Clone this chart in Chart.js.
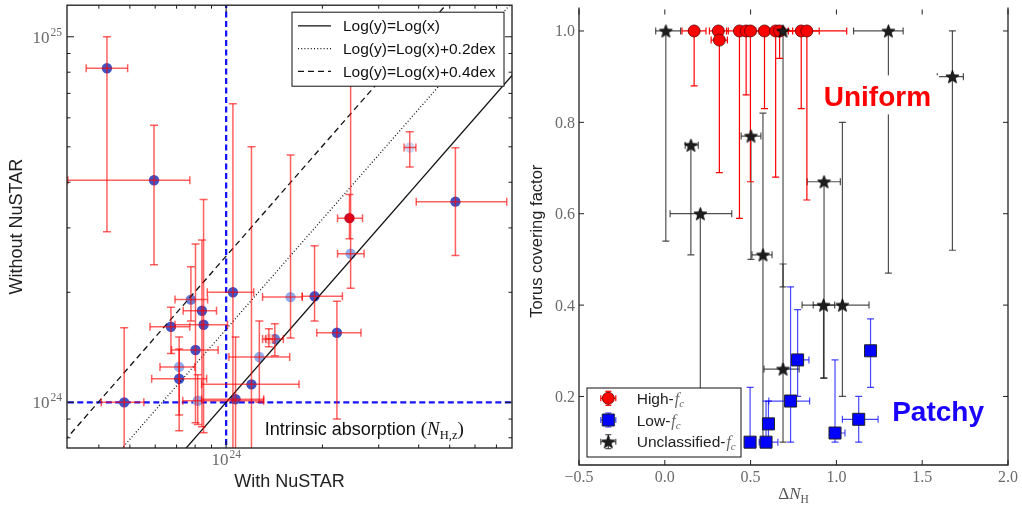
<!DOCTYPE html>
<html>
<head>
<meta charset="utf-8">
<title>NuSTAR column densities and torus covering factor</title>
<script src="https://cdn.jsdelivr.net/npm/chart.js@4.4.1/dist/chart.umd.min.js"></script>
<style>
  html, body { margin: 0; padding: 0; background: #fff; overflow: hidden; }
  #left { position: absolute; left: 0; top: 0; }
  #right { position: absolute; left: 520px; top: 0; }
</style>
</head>
<body>
<canvas id="left" width="520" height="511"></canvas>
<canvas id="right" width="502" height="511"></canvas>
<script>
// ---------- left panel: N_H fitted with / without NuSTAR (cm^-2) ----------
var nhWith      = [4.24e23, 5.95e23, 4.8e23, 6.72e23, 7.76e23, 8.4e23, 8.5e23, 8.02e23, 7.13e23, 7.13e23, 8.15e23,
                   1.05e24, 1.07e24, 1.2e24, 1.27e24, 1.42e24, 1.36e24, 1.59e24, 1.89e24, 2.22e24, 2.43e24, 2.45e24, 3.75e24, 5.21e24];
var nhWithLo    = [3.65e23, 3.2e23, 4.07e23, 5.78e23, 6.92e23, 7.34e23, 6.92e23, 6.75e23, 6.21e23, 5.85e23, 7.32e23,
                   8.73e23, 8.38e23, 8.38e23, 1.02e24, 1.3e24, 1.33e24, 1.3e24, 1.73e24, 1.92e24, 2.23e24, 2.23e24, 3.6e24, 3.93e24];
var nhWithHi    = [4.92e23, 7.7e23, 5.53e23, 7.7e23, 8.75e23, 9.33e23, 1.01e24, 9.44e23, 7.98e23, 8.69e23, 1.31e24,
                   1.22e24, 1.31e24, 1.69e24, 1.58e24, 1.51e24, 1.4e24, 1.73e24, 2.31e24, 2.64e24, 2.67e24, 2.7e24, 3.92e24, 7.54e24];
var nhWithout   = [8.2e24, 4.05e24, 1.0e24, 1.61e24, 1.91e24, 1.78e24, 1.63e24, 1.39e24, 1.25e24, 1.16e24, 1.01e24,
                   2.0e24, 1.02e24, 1.12e24, 1.33e24, 1.49e24, 1.49e24, 1.94e24, 1.95e24, 1.55e24, 3.19e24, 2.55e24, 4.98e24, 3.54e24];
var nhWithoutLo = [2.93e24, 2.38e24, 6.0e23, 1.36e24, 1.67e24, 8.57e23, 8.25e23, 8.79e23, 8.36e23, 9.24e23, 8.7e23,
                   6.0e23, 6.0e23, 6.0e23, 1.0e24, 1.34e24, 1.42e24, 1.5e24, 1.67e24, 9.0e23, 2.8e24, 2.05e24, 4.4e24, 2.52e24];
var nhWithoutHi = [1.0e25, 5.73e24, 1.6e24, 1.82e24, 2.35e24, 2.78e24, 3.59e24, 2.71e24, 1.51e24, 1.4e24, 1.19e24,
                   6.56e24, 1.51e24, 5.0e24, 1.67e24, 1.64e24, 1.59e24, 4.75e24, 2.68e24, 1.89e24, 3.7e24, 8.0e24, 5.5e24, 4.97e24];
var nhShade     = ['dark', 'dark', 'dark', 'dark', 'mid', 'dark', 'dark', 'dark', 'light', 'dark', 'light',
                   'dark', 'dark', 'dark', 'light', 'mid', 'pink', 'light', 'dark', 'dark', 'red', 'light', 'pale', 'dark'];
var shadeColor  = { dark: '#3f54c6', mid: '#6481da', light: '#8db0f0', pale: '#c9d8f2', pink: '#eccac6', red: '#c4082a' };

var refDex      = [0, 0.2, 0.4];
var refLabels   = ['Log(y)=Log(x)', 'Log(y)=Log(x)+0.2dex', 'Log(y)=Log(x)+0.4dex'];
var refDash     = [[], [1, 2.2], [6, 4]];
var refSpan     = [1e23, 1e26];
var nhThreshold = 1e24;

var leftXTicks    = [4e23, 5e23, 6e23, 7e23, 8e23, 9e23, 1e24, 2e24, 3e24, 4e24, 5e24, 6e24, 7e24];
var leftYTicks    = [8e23, 9e23, 1e24, 2e24, 3e24, 4e24, 5e24, 6e24, 7e24, 8e24, 9e24, 1e25];
var leftXLabelVal = [1e24];
var leftXLabelExp = ['24'];
var leftYLabelVal = [1e24, 1e25];
var leftYLabelExp = ['24', '25'];
var leftXTitle = 'With NuSTAR';
var leftYTitle = 'Without NuSTAR';
var noteText = 'Intrinsic absorption ';
var noteAt = [1.32e24, 8.15e23];

// ---------- right panel: Delta N_H vs torus covering factor ----------
var highDN   = [0.171, 0.312, 0.318, 0.435, 0.474, 0.499, 0.581, 0.646, 0.669, 0.795, 0.828];
var highFc   = [1.0, 1.0, 0.98, 1.0, 1.0, 1.0, 1.0, 1.0, 1.0, 1.0, 1.0];
var highDNlo = [0.10, 0.26, 0.27, 0.36, 0.42, 0.44, 0.50, 0.55, 0.62, 0.70, 0.60];
var highDNhi = [0.24, 0.37, 0.365, 0.51, 0.53, 0.56, 0.66, 0.745, 0.72, 0.90, 1.06];
var highFcLo = [0.88, 1.0, 0.69, 0.59, 0.86, 0.67, 0.83, 0.68, 0.94, 0.83, 0.63];
var highFcHi = [1.0, 1.0, 0.98, 1.0, 1.0, 1.0, 1.0, 1.0, 1.0, 1.0, 1.0];

var lowDN    = [0.497, 0.59, 0.604, 0.733, 0.774, 0.992, 1.13, 1.199];
var lowFc    = [0.10, 0.10, 0.14, 0.19, 0.28, 0.12, 0.15, 0.30];
var lowDNlo  = [0.497, 0.55, 0.59, 0.606, 0.74, 0.96, 1.035, 1.199];
var lowDNhi  = [0.497, 0.659, 0.62, 0.844, 0.84, 1.05, 1.243, 1.199];
var lowFcLo  = [0.10, 0.10, 0.10, 0.10, 0.20, 0.10, 0.10, 0.22];
var lowFcHi  = [0.22, 0.19, 0.19, 0.44, 0.39, 0.28, 0.20, 0.37];

var unclDN   = [0.006, 0.152, 0.207, 0.502, 0.572, 0.689, 0.689, 0.928, 0.925, 1.035, 1.303, 1.676];
var unclFc   = [1.0, 0.75, 0.60, 0.77, 0.51, 1.0, 0.26, 0.67, 0.40, 0.40, 1.0, 0.90];
var unclDNlo = [-0.053, 0.119, 0.031, 0.445, 0.508, 0.66, 0.578, 0.83, 0.865, 0.80, 1.10, 1.588];
var unclDNhi = [0.092, 0.195, 0.39, 0.56, 0.625, 0.72, 0.783, 1.023, 0.99, 1.19, 1.389, 1.74];
var unclFcLo = [0.54, 0.51, 0.12, 0.50, 0.10, 0.44, 0.10, 0.24, 0.24, 0.20, 0.47, 0.52];
var unclFcHi = [1.0, 0.75, 0.60, 0.77, 0.82, 1.0, 0.49, 0.67, 0.40, 0.80, 1.0, 1.0];

var rightXTicks  = [-0.5, 0.0, 0.5, 1.0, 1.5, 2.0];
var rightXLabels = ['\u22120.5', '0.0', '0.5', '1.0', '1.5', '2.0'];
var rightYTicks  = [0.2, 0.4, 0.6, 0.8, 1.0];
var rightYLabels = ['0.2', '0.4', '0.6', '0.8', '1.0'];
var rightYTitle  = 'Torus covering factor';
var uniformAt = [0.926, 0.835];
var patchyAt  = [1.325, 0.146];

// ---------- helpers ----------
function seg(ctx, x0, y0, x1, y1) {
	ctx.beginPath(); ctx.moveTo(x0, y0); ctx.lineTo(x1, y1); ctx.stroke();
}
function isDecade(v) {
	var l = Math.log10(v);
	return Math.abs(l - Math.round(l)) < 1e-9;
}
function pts(xs, ys) {
	return xs.map(function (x, i) { return { x: x, y: ys[i] }; });
}

function drawErrorBars(chart) {
	var ctx = chart.ctx, a = chart.chartArea, xs = chart.scales.x, ys = chart.scales.y;
	ctx.save();
	ctx.beginPath(); ctx.rect(a.left, a.top, a.width, a.height); ctx.clip();
	ctx.lineCap = 'butt';
	chart.data.datasets.forEach(function (ds) {
		if (!ds.err) return;
		var e = ds.err, c = e.cap;
		ctx.strokeStyle = e.color; ctx.lineWidth = e.width;
		ds.data.forEach(function (p, i) {
			var px = xs.getPixelForValue(p.x), py = ys.getPixelForValue(p.y);
			var xl = xs.getPixelForValue(e.xlo[i]), xh = xs.getPixelForValue(e.xhi[i]);
			var yl = ys.getPixelForValue(e.ylo[i]), yh = ys.getPixelForValue(e.yhi[i]);
			if (xh - xl > 0.5) {
				seg(ctx, xl, py, xh, py);
				if (e.xlo[i] < p.x) seg(ctx, xl, py - c, xl, py + c);
				if (e.xhi[i] > p.x) seg(ctx, xh, py - c, xh, py + c);
			}
			if (yl - yh > 0.5) {
				seg(ctx, px, yl, px, yh);
				if (e.ylo[i] < p.y) seg(ctx, px - c, yl, px + c, yl);
				if (e.yhi[i] > p.y) seg(ctx, px - c, yh, px + c, yh);
			}
		});
	});
	ctx.restore();
}

var errorBars = {
	id: 'errorBars',
	beforeDatasetsDraw: function (chart, args, opts) { if (opts.under) drawErrorBars(chart); },
	afterDatasetsDraw: function (chart, args, opts) { if (!opts.under) drawErrorBars(chart); }
};

function drawPower(ctx, base, exp, x, y, align) {
	ctx.font = '17px "Liberation Serif"';
	var wb = ctx.measureText(base).width;
	ctx.font = '11.5px "Liberation Serif"';
	var we = ctx.measureText(exp).width;
	var x0 = align === 'right' ? x - wb - we - 1 : x - (wb + we + 1) / 2;
	ctx.textAlign = 'left'; ctx.textBaseline = 'alphabetic';
	ctx.font = '17px "Liberation Serif"';
	ctx.fillText(base, x0, y);
	ctx.font = '11.5px "Liberation Serif"';
	ctx.fillText(exp, x0 + wb + 1, y - 7);
}

// pieces of mixed text: [string, font, dy]
function drawRun(ctx, parts, x, y) {
	ctx.textAlign = 'left'; ctx.textBaseline = 'alphabetic';
	parts.forEach(function (p) {
		ctx.font = p[1];
		ctx.fillText(p[0], x, y + (p[2] || 0));
		x += ctx.measureText(p[0]).width;
	});
	return x;
}
function runWidth(ctx, parts) {
	var w = 0;
	parts.forEach(function (p) { ctx.font = p[1]; w += ctx.measureText(p[0]).width; });
	return w;
}

function makeStar(size, fill, edge) {
	var c = document.createElement('canvas');
	c.width = c.height = size;
	var g = c.getContext('2d'), r = size / 2 - 0.6, ri = r * 0.42, m = size / 2;
	g.beginPath();
	for (var k = 0; k < 10; k++) {
		var ang = -Math.PI / 2 + k * Math.PI / 5, rr = k % 2 ? ri : r;
		g.lineTo(m + rr * Math.cos(ang), m + 0.6 + rr * Math.sin(ang));
	}
	g.closePath();
	g.fillStyle = fill; g.fill();
	g.strokeStyle = edge; g.lineWidth = 0.8; g.stroke();
	return c;
}
var starImg = makeStar(15, '#1e1e1e', '#000');

// ---------- left chart ----------
var leftDecor = {
	id: 'leftDecor',
	afterDraw: function (chart) {
		var ctx = chart.ctx, a = chart.chartArea, xs = chart.scales.x, ys = chart.scales.y;
		ctx.save();
		ctx.strokeStyle = '#1a1a1a'; ctx.lineWidth = 1;
		leftXTicks.forEach(function (v) {
			var p = xs.getPixelForValue(v), len = isDecade(v) ? 7 : 3.5;
			seg(ctx, p, a.bottom, p, a.bottom - len);
			seg(ctx, p, a.top, p, a.top + len);
		});
		leftYTicks.forEach(function (v) {
			var p = ys.getPixelForValue(v), len = isDecade(v) ? 7 : 3.5;
			seg(ctx, a.left, p, a.left + len, p);
			seg(ctx, a.right, p, a.right - len, p);
		});
		ctx.lineWidth = 1.3;
		ctx.strokeRect(a.left, a.top, a.width, a.height);

		ctx.fillStyle = '#6a6a6a';
		leftXLabelVal.forEach(function (v, i) {
			drawPower(ctx, '10', leftXLabelExp[i], xs.getPixelForValue(v), a.bottom + 17, 'center');
		});
		leftYLabelVal.forEach(function (v, i) {
			drawPower(ctx, '10', leftYLabelExp[i], a.left - 5, ys.getPixelForValue(v) + 6, 'right');
		});

		ctx.fillStyle = '#222';
		ctx.font = '18px "Liberation Sans"';
		ctx.textAlign = 'center'; ctx.textBaseline = 'middle';
		ctx.fillText(leftXTitle, (a.left + a.right) / 2, a.bottom + 34);
		ctx.save();
		ctx.translate(a.left - 50, (a.top + a.bottom) / 2);
		ctx.rotate(-Math.PI / 2);
		ctx.fillText(leftYTitle, 0, 0);
		ctx.restore();

		// note about the threshold lines
		ctx.fillStyle = '#111';
		drawRun(ctx, [
			[noteText, '18px "Liberation Sans"'],
			['(', '19px "Liberation Serif"'],
			['N', 'italic 19px "Liberation Serif"'],
			['H,z', '12.5px "Liberation Serif"', 4],
			[')', '19px "Liberation Serif"']
		], xs.getPixelForValue(noteAt[0]), ys.getPixelForValue(noteAt[1]));

		// legend for the reference lines
		var lx = a.right - 220, ly = a.top + 7, lw = 212, lh = 74;
		ctx.fillStyle = '#fff';
		ctx.fillRect(lx, ly, lw, lh);
		ctx.strokeStyle = '#111'; ctx.lineWidth = 1;
		ctx.strokeRect(lx, ly, lw, lh);
		ctx.font = '15.5px "Liberation Sans"';
		ctx.textAlign = 'left'; ctx.textBaseline = 'middle';
		chart.data.datasets.forEach(function (ds) {
			if (ds.legendRow === undefined) return;
			var y = ly + 13.7 + ds.legendRow * 22.7;
			ctx.save();
			ctx.strokeStyle = ds.borderColor; ctx.lineWidth = ds.borderWidth;
			ctx.setLineDash(ds.borderDash);
			seg(ctx, lx + 6, y, lx + 39, y);
			ctx.restore();
			ctx.fillStyle = '#111';
			ctx.fillText(ds.label, lx + 51, y + 1);
		});
		ctx.restore();
	}
};

var leftDatasets = [{
	label: 'sources',
	data: pts(nhWith, nhWithout),
	pointRadius: 5.2,
	pointBorderWidth: 0,
	pointBackgroundColor: nhShade.map(function (s) { return shadeColor[s]; }),
	order: 1,
	err: { xlo: nhWithLo, xhi: nhWithHi, ylo: nhWithoutLo, yhi: nhWithoutHi,
	       color: 'rgba(255,0,0,0.62)', width: 1.5, cap: 4 }
}];
refDex.forEach(function (dex, k) {
	leftDatasets.push({
		label: refLabels[k],
		legendRow: k,
		data: refSpan.map(function (x) { return { x: x, y: x * Math.pow(10, dex) }; }),
		showLine: true, pointRadius: 0,
		borderColor: '#111', borderWidth: 1.3, borderDash: refDash[k],
		order: 0
	});
});
leftDatasets.push({
	label: 'threshold x',
	data: [{ x: nhThreshold, y: 1e23 }, { x: nhThreshold, y: 1e26 }],
	showLine: true, pointRadius: 0,
	borderColor: '#1414ff', borderWidth: 2.3, borderDash: [6, 3.5],
	order: 2
}, {
	label: 'threshold y',
	data: [{ x: 1e23, y: nhThreshold }, { x: 1e26, y: nhThreshold }],
	showLine: true, pointRadius: 0,
	borderColor: '#1414ff', borderWidth: 2.3, borderDash: [6, 3.5],
	order: 2
});

new Chart(document.getElementById('left'), {
	type: 'scatter',
	data: { datasets: leftDatasets },
	options: {
		responsive: false,
		animation: false,
		events: [],
		layout: { padding: { left: 67, right: 8, top: 2, bottom: 63 } },
		scales: {
			x: { type: 'logarithmic', min: 3.18e23, max: 7.83e24, display: false },
			y: { type: 'logarithmic', min: 7.5e23, max: 1.22e25, display: false }
		},
		plugins: {
			legend: { display: false },
			tooltip: { enabled: false },
			errorBars: { under: false }
		}
	},
	plugins: [errorBars, leftDecor]
});

// ---------- right chart ----------
function drawMarker(ctx, ds, x, y) {
	if (typeof ds.pointStyle === 'object') {
		ctx.drawImage(ds.pointStyle, x - ds.pointStyle.width / 2, y - ds.pointStyle.height / 2);
		return;
	}
	ctx.fillStyle = ds.pointBackgroundColor;
	ctx.strokeStyle = ds.pointBorderColor;
	ctx.lineWidth = ds.pointBorderWidth;
	ctx.beginPath();
	if (ds.pointStyle === 'rect') {
		var h = ds.pointRadius * Math.SQRT1_2;
		ctx.rect(x - h, y - h, 2 * h, 2 * h);
	} else {
		ctx.arc(x, y, ds.pointRadius, 0, Math.PI * 2);
	}
	ctx.fill(); ctx.stroke();
}

var rightDecor = {
	id: 'rightDecor',
	afterDraw: function (chart) {
		var ctx = chart.ctx, a = chart.chartArea, xs = chart.scales.x, ys = chart.scales.y;
		ctx.save();
		ctx.strokeStyle = '#222'; ctx.lineWidth = 1;
		rightXTicks.forEach(function (v) {
			var p = xs.getPixelForValue(v);
			seg(ctx, p, a.bottom, p, a.bottom - 5);
			seg(ctx, p, a.top, p, a.top + 5);
		});
		rightYTicks.forEach(function (v) {
			var p = ys.getPixelForValue(v);
			seg(ctx, a.left, p, a.left + 5, p);
			seg(ctx, a.right, p, a.right - 5, p);
		});
		ctx.lineWidth = 1.3;
		ctx.beginPath();
		ctx.moveTo(a.left, a.top - 2); ctx.lineTo(a.left, a.bottom);
		ctx.lineTo(a.right, a.bottom); ctx.lineTo(a.right, a.top - 2);
		ctx.stroke();

		ctx.fillStyle = '#6a6a6a';
		ctx.font = '16px "Liberation Serif"';
		ctx.textAlign = 'center'; ctx.textBaseline = 'alphabetic';
		rightXTicks.forEach(function (v, i) {
			ctx.fillText(rightXLabels[i], xs.getPixelForValue(v), a.bottom + 17);
		});
		ctx.textAlign = 'right';
		rightYTicks.forEach(function (v, i) {
			ctx.fillText(rightYLabels[i], a.left - 4, ys.getPixelForValue(v) + 5.5);
		});

		// axis titles
		ctx.fillStyle = '#222';
		ctx.font = '16.5px "Liberation Sans"';
		ctx.textAlign = 'center'; ctx.textBaseline = 'middle';
		ctx.save();
		ctx.translate(a.left - 42, (a.top + a.bottom) / 2 + 4);
		ctx.rotate(-Math.PI / 2);
		ctx.fillText(rightYTitle, 0, 0);
		ctx.restore();
		var dn = [['\u0394', '17px "Liberation Serif"'], ['N', 'italic 17px "Liberation Serif"'],
		          ['H', '11.5px "Liberation Serif"', 3.5]];
		ctx.fillStyle = '#555';
		drawRun(ctx, dn, (a.left + a.right) / 2 - runWidth(ctx, dn) / 2, a.bottom + 34);

		// region labels
		ctx.font = 'bold 28px "Liberation Sans"';
		ctx.textAlign = 'left'; ctx.textBaseline = 'alphabetic';
		[[uniformAt, 'Uniform', '#ff0000'], [patchyAt, 'Patchy', '#1a00ff']].forEach(function (t) {
			var x = xs.getPixelForValue(t[0][0]), y = ys.getPixelForValue(t[0][1]);
			var w = ctx.measureText(t[1]).width;
			ctx.fillStyle = '#fff';
			ctx.fillRect(x - 8, y - 31, w + 16, 39);
			ctx.fillStyle = t[2];
			ctx.fillText(t[1], x, y);
		});

		// legend
		var lx = a.left + 8, ly = a.bottom - 77, lw = 154, lh = 69;
		ctx.fillStyle = '#fff';
		ctx.fillRect(lx, ly, lw, lh);
		ctx.strokeStyle = '#111'; ctx.lineWidth = 1;
		ctx.strokeRect(lx, ly, lw, lh);
		chart.data.datasets.slice().sort(function (p, q) { return p.legendRow - q.legendRow; }).forEach(function (ds) {
			var my = ly + 10.3 + ds.legendRow * 21.7, mx = lx + 21.3;
			ctx.strokeStyle = ds.err.color; ctx.lineWidth = 1.2;
			seg(ctx, mx - 7.5, my, mx + 7.5, my);
			seg(ctx, mx - 7.5, my - 3, mx - 7.5, my + 3);
			seg(ctx, mx + 7.5, my - 3, mx + 7.5, my + 3);
			seg(ctx, mx, my - 7, mx, my + 7);
			seg(ctx, mx - 3, my - 7, mx + 3, my - 7);
			seg(ctx, mx - 3, my + 7, mx + 3, my + 7);
			drawMarker(ctx, ds, mx, my);
			ctx.fillStyle = '#222';
			var x = drawRun(ctx, [[ds.legendText, '15.5px "Liberation Sans"']], lx + 49.7, my + 5.5);
			ctx.fillStyle = '#666';
			drawRun(ctx, [['f', 'italic 16px "Liberation Serif"'], ['c', 'italic 11px "Liberation Serif"', 3]], x + 1, my + 5.5);
		});
		ctx.restore();
	}
};

new Chart(document.getElementById('right'), {
	type: 'scatter',
	data: {
		datasets: [{
			label: 'Unclassified-fc', legendText: 'Unclassified-', legendRow: 2,
			data: pts(unclDN, unclFc),
			pointStyle: starImg, pointRadius: 7,
			order: 0,
			err: { xlo: unclDNlo, xhi: unclDNhi, ylo: unclFcLo, yhi: unclFcHi,
			       color: 'rgba(30,30,30,0.78)', width: 1.2, cap: 3.5 }
		}, {
			label: 'Low-fc', legendText: 'Low-', legendRow: 1,
			data: pts(lowDN, lowFc),
			pointStyle: 'rect', pointRadius: 8.5,
			pointBackgroundColor: '#0000ff', pointBorderColor: '#222', pointBorderWidth: 1,
			order: 1,
			err: { xlo: lowDNlo, xhi: lowDNhi, ylo: lowFcLo, yhi: lowFcHi,
			       color: 'rgba(0,0,255,0.72)', width: 1.2, cap: 3.5 }
		}, {
			label: 'High-fc', legendText: 'High-', legendRow: 0,
			data: pts(highDN, highFc),
			pointStyle: 'circle', pointRadius: 6,
			pointBackgroundColor: '#ff0000', pointBorderColor: '#5a0000', pointBorderWidth: 0.8,
			order: 2,
			err: { xlo: highDNlo, xhi: highDNhi, ylo: highFcLo, yhi: highFcHi,
			       color: '#ff0000', width: 1.2, cap: 3.5 }
		}]
	},
	options: {
		responsive: false,
		animation: false,
		events: [],
		layout: { padding: { left: 59, right: 14, top: 0, bottom: 46 } },
		scales: {
			x: { type: 'linear', min: -0.5, max: 2.0, display: false },
			y: { type: 'linear', min: 0.05, max: 1.047, display: false }
		},
		plugins: {
			legend: { display: false },
			tooltip: { enabled: false },
			errorBars: { under: true }
		}
	},
	plugins: [errorBars, rightDecor]
});
</script>
</body>
</html>
